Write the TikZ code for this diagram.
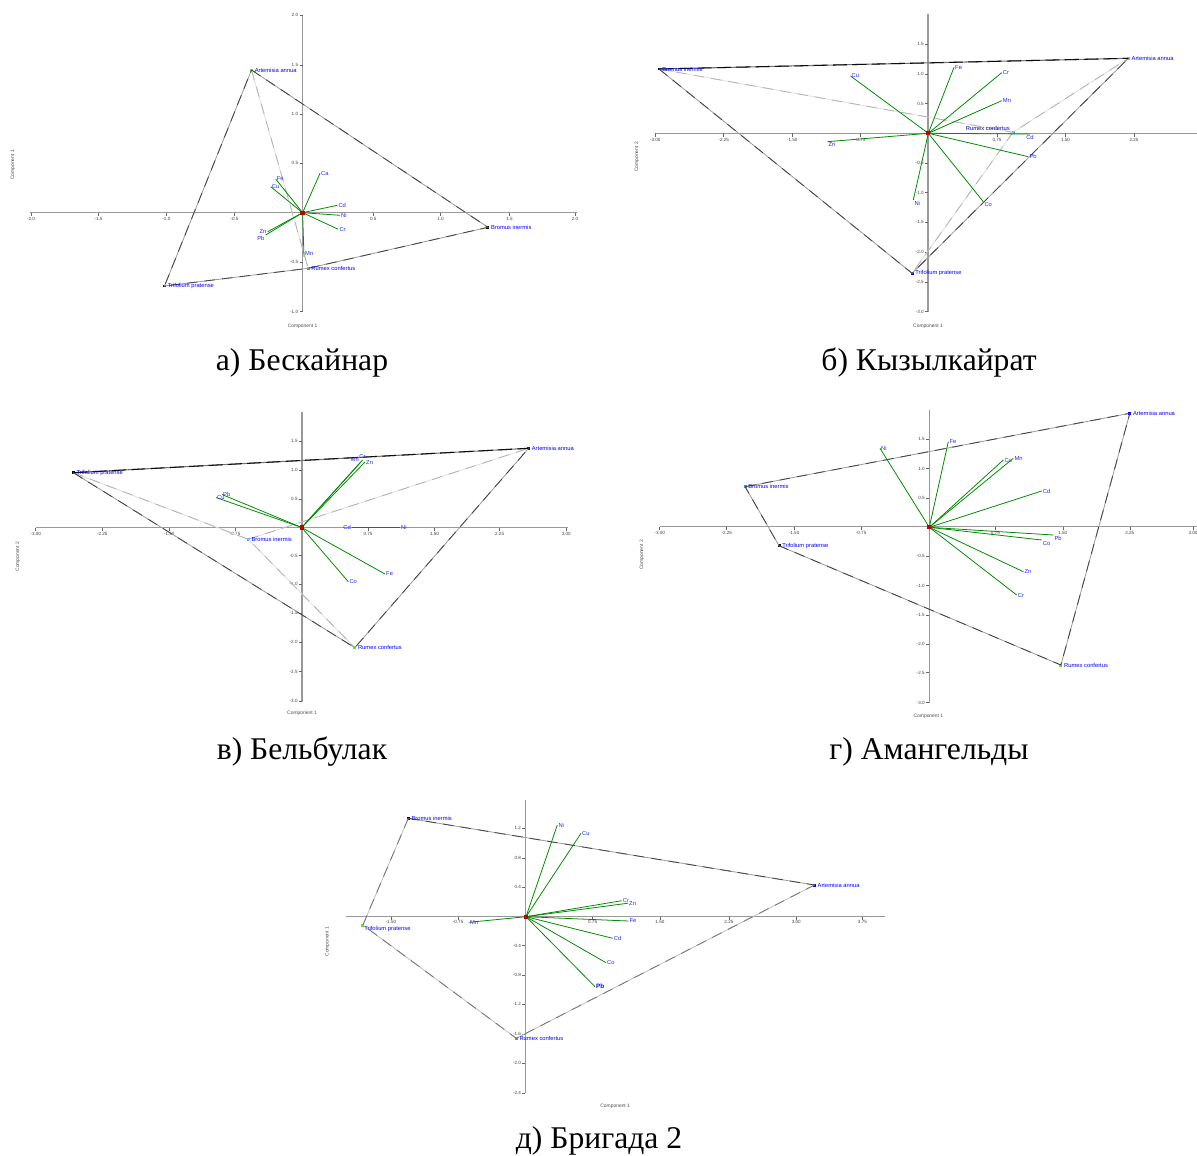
\documentclass[tikz,border=0pt]{standalone}
\usepackage{fontspec}
\setmainfont{Liberation Serif}
\newfontfamily\labfont{Liberation Sans}
\begin{document}
\begin{tikzpicture}[x=0.02cm,y=-0.02cm,
  ax/.style={draw=black!40, line width=0.7pt},
  tkm/.style={draw=black!60, line width=0.3pt},
  tk/.style={font=\labfont\fontsize{2.6}{3}\selectfont, text=black!75, inner sep=0.6pt},
  sp/.style={font=\labfont\fontsize{3.3}{4}\selectfont, text=blue, inner sep=0.6pt, anchor=west},
  el/.style={font=\labfont\fontsize{3.3}{4}\selectfont, text=blue!85!white, inner sep=0.5pt},
  alab/.style={font=\labfont\fontsize{2.8}{3}\selectfont, text=black!70, inner sep=0pt},
  vec/.style={draw=green!55!black, line width=0.45pt},
  dot/.style={rectangle, inner sep=0pt, minimum size=1.7pt},
  odot/.style={rectangle, inner sep=0pt, minimum size=2.4pt, fill=red!75!black},
  hulld/.style={draw=black!40, line width=0.45pt, postaction={draw=black!75, dash pattern=on 6pt off 4pt}},
  hulll/.style={draw=black!12, line width=0.45pt, postaction={draw=black!30, dash pattern=on 6pt off 4pt}},
  hullm/.style={draw=black!25, line width=0.45pt, postaction={draw=black!55, dash pattern=on 6pt off 4pt}},
  hullb/.style={draw=black!55, line width=0.6pt, postaction={draw=black!95, dash pattern=on 8pt off 3pt}},
  captxt/.style={font=\fontsize{18}{21}\selectfont, inner sep=0pt}
]
\fill[white] (0,0) rectangle (1197,1156);
\useasboundingbox (0,0) rectangle (1197,1156);

% ================= Panel a =================
\coordinate (a0) at (302.6,212.7);
\draw[ax] (302.6,15) -- (302.6,311.7);
\draw[ax] (29.5,212.7) -- (576.8,212.7);
\foreach \x/\t [count=\i] in {31/-2.0,98.5/-1.5,166.4/-1.0,234.5/-0.5,373.3/0.5,440.6/1.0,509.5/1.5,575/2.0}
  {\draw[tkm] (\x,212.7) -- (\x,216); \node[tk,anchor=north] (atx\i) at (\x,216) {\t};}
\foreach \y/\t [count=\i] in {15/2.0,65/1.5,114.3/1.0,163.3/0.5,262/-0.5,311.7/-1.0}
  {\draw[tkm] (299.5,\y) -- (302.6,\y); \node[tk,anchor=east] (aty\i) at (299.5,\y) {\t};}
\node[alab,rotate=90] (ayl) at (13,165) {Component 1};
\node[alab] (axl) at (302.6,326) {Component 1};
\node[dot,fill=green!75!yellow] (aArt) at (251.5,70) {};
\node[dot,fill=black] (aBro) at (487.9,227.3) {};
\node[dot,fill=blue] (aTri) at (164.5,286) {};
\node[dot,fill=cyan] (aRum) at (308.2,268.3) {};
\draw[hulll] (aArt.center) -- (aRum.center);
\draw[hulld] (aArt.center) -- (aBro.center) -- (aRum.center) -- (aTri.center) -- cycle;
\foreach \n/\x/\y/\a in {Ca/320/173.3/west,Cd/337.3/205.3/west,Ni/340/215.3/west,Cr/338.3/229.3/west,Mn/304/256.7/south west,Zn/267.7/231.7/east,Pb/265.7/235/north east,Fe/275.7/179/west,Cu/270.7/186.7/west}
  {\coordinate (a\n) at (\x,\y); \draw[vec] (a0) -- (a\n); \node[el,anchor=\a] (aL\n) at (a\n) {\n};}
\node[odot] (aO) at (a0) {};
\node[sp] (aArtL) at (aArt.east) {Artemisia annua};
\node[sp] (aBroL) at (aBro.east) {Bromus inermis};
\node[sp] (aTriL) at (aTri.east) {Trifolium pratense};
\node[sp] (aRumL) at (aRum.east) {Rumex confertus};

% ================= Panel b =================
\coordinate (b0) at (928.3,133.3);
\draw[ax] (928.1,14) -- (928.1,311.7);
\draw[ax] (655,133.3) -- (1197,133.3);
\foreach \x/\t [count=\i] in {655.2/-3.00,723.7/-2.25,792.2/-1.50,860/-0.75,997/0.75,1065.5/1.50,1134/2.25}
  {\draw[tkm] (\x,133.3) -- (\x,136.5); \node[tk,anchor=north] (btx\i) at (\x,136.5) {\t};}
\foreach \y/\t [count=\i] in {44.3/1.5,74/1.0,103.7/0.5,163/-0.5,192.7/-1.0,222.3/-1.5,252.3/-2.0,282.3/-2.5,311.7/-3.0}
  {\draw[tkm] (925,\y) -- (928.1,\y); \node[tk,anchor=east] (bty\i) at (925,\y) {\t};}
\node[alab,rotate=90] (byl) at (637,157) {Component 2};
\node[alab] (bxl) at (928,326) {Component 1};
\node[dot,fill=black] (bBro) at (659,69) {};
\node[dot,fill=green!75!yellow] (bArt) at (1128.4,58.3) {};
\node[dot,fill=blue] (bTri) at (912.1,273.3) {};
\node[dot,fill=cyan] (bRum) at (1013,132.3) {};
\draw[hulll] (bBro.center) -- (bRum.center) -- (bArt.center);
\draw[hulll] (bRum.center) -- (bTri.center);
\draw[hulld] (bBro.center) -- (bTri.center) -- (bArt.center);
\draw[hullb] (bBro.center) -- (bArt.center);
\foreach \n/\x/\y/\a in {Fe/954/67.3/west,Cr/1001.7/72.7/west,Mn/1001.7/100.7/west,Cd/1030/134/north,Pb/1028.3/156.7/west,Co/983.3/201.7/north west,Ni/913.3/200/north west,Zn/827.3/141.7/north west,Cu/850.5/76/west}
  {\coordinate (b\n) at (\x,\y); \draw[vec] (b0) -- (b\n); \node[el,anchor=\a] (bL\n) at (b\n) {\n};}
\node[odot] (bO) at (b0) {};
\node[sp] (bArtL) at (bArt.east) {Artemisia annua};
\node[sp] (bBroL) at (bBro.east) {Bromus inermis};
\node[sp] (bTriL) at (bTri.east) {Trifolium pratense};
\node[sp,anchor=south east,text=blue!70!black] (bRumL) at (bRum.west) {Rumex confertus};

% ================= Panel c =================
\coordinate (c0) at (301.7,527.5);
\draw[ax] (302.1,411.7) -- (302.1,701.7);
\draw[ax] (35.7,527.7) -- (568,527.7);
\foreach \x/\t [count=\i] in {35.7/-3.00,102.3/-2.25,169.3/-1.50,235.1/-0.75,368/0.75,434.5/1.50,499.6/2.25,566.2/3.00}
  {\draw[tkm] (\x,527.7) -- (\x,531); \node[tk,anchor=north] (ctx\i) at (\x,531) {\t};}
\foreach \y/\t [count=\i] in {441/1.5,470/1.0,499/0.5,555.7/-0.5,584.3/-1.0,613.3/-1.5,642.3/-2.0,671.7/-2.5,701/-3.0}
  {\draw[tkm] (299,\y) -- (302.1,\y); \node[tk,anchor=east] (cty\i) at (299,\y) {\t};}
\node[alab,rotate=90] (cyl) at (18,556.7) {Component 2};
\node[alab] (cxl) at (302,713.3) {Component 1};
\node[dot,fill=black] (cTri) at (73.4,472.7) {};
\node[dot,fill=blue] (cArt) at (528.6,448.3) {};
\node[dot,fill=cyan] (cBro) at (248.3,539.3) {};
\node[dot,fill=green!75!yellow] (cRum) at (354.8,647.7) {};
\draw[hulll] (cTri.center) -- (cBro.center) -- (cRum.center);
\draw[hulll] (cBro.center) -- (cArt.center);
\draw[hulld] (cTri.center) -- (cRum.center) -- (cArt.center);
\draw[hullb] (cTri.center) -- (cArt.center);
\foreach \n/\x/\y/\a in {Mn/360/463/south east,Cr/362.5/460/south,Zn/365/462/west,Pb/222/494.5/west,Cu/216/497.5/west,Fe/385/574/west,Co/348.3/581.7/west}
  {\coordinate (c\n) at (\x,\y); \draw[vec] (c0) -- (c\n); \node[el,anchor=\a] (cL\n) at (c\n) {\n};}
\coordinate (cCd) at (352,527.5);
\coordinate (cNi) at (400,527.5);
\draw[vec, line width=0.6pt] (cCd) -- (cNi);
\node[el,anchor=east] (cLCd) at (cCd) {Cd};
\node[el,anchor=west] (cLNi) at (cNi) {Ni};
\node[odot] (cO) at (c0) {};
\node[sp] (cArtL) at (cArt.east) {Artemisia annua};
\node[sp] (cBroL) at (cBro.east) {Bromus inermis};
\node[sp] (cTriL) at (cTri.east) {Trifolium pratense};
\node[sp] (cRumL) at (cRum.east) {Rumex confertus};

% ================= Panel d =================
\coordinate (d0) at (929.3,527.3);
\draw[ax] (929.2,410) -- (929.2,703.3);
\draw[ax] (659.7,526.7) -- (1197,526.7);
\foreach \x/\t [count=\i] in {659.7/-3.00,726.7/-2.25,794.1/-1.50,861.1/-0.75,995.4/0.75,1062.8/1.50,1129.8/2.25,1193/3.00}
  {\draw[tkm] (\x,526.7) -- (\x,530); \node[tk,anchor=north] (dtx\i) at (\x,530) {\t};}
\foreach \y/\t [count=\i] in {439.3/1.5,468.7/1.0,498.3/0.5,556/-0.5,585.7/-1.0,615/-1.5,644/-2.0,672.7/-2.5,702.7/-3.0}
  {\draw[tkm] (926,\y) -- (929.2,\y); \node[tk,anchor=east] (dty\i) at (926,\y) {\t};}
\node[alab,rotate=90] (dyl) at (642,555) {Component 2};
\node[alab] (dxl) at (928.4,716.7) {Component 1};
\node[dot,fill=blue] (dArt) at (1129.8,413.3) {};
\node[dot,fill=cyan] (dBro) at (745.1,486.7) {};
\node[dot,fill=black] (dTri) at (779,545.7) {};
\node[dot,fill=green!75!yellow] (dRum) at (1060.9,665) {};
\draw[hulld] (dBro.center) -- (dArt.center) -- (dRum.center) -- (dTri.center) -- cycle;
\foreach \n/\x/\y/\a in {Ni/880/448.3/west,Fe/948.3/441.7/west,Cu/1003.3/460/west,Mn/1013.3/458.3/west,Cd/1041.7/491/west,Pb/1053.3/535/north west,Co/1041.7/540/north west,Zn/1023.3/571.7/west,Cr/1016.7/595/west}
  {\coordinate (d\n) at (\x,\y); \draw[vec] (d0) -- (d\n); \node[el,anchor=\a] (dL\n) at (d\n) {\n};}
\node[odot] (dO) at (d0) {};
\node[sp] (dArtL) at (dArt.east) {Artemisia annua};
\node[sp] (dBroL) at (dBro.east) {Bromus inermis};
\node[sp] (dTriL) at (dTri.east) {Trifolium pratense};
\node[sp] (dRumL) at (dRum.east) {Rumex confertus};

% ================= Panel e =================
\coordinate (e0) at (526,916.7);
\draw[ax] (525.4,800) -- (525.4,1093.3);
\draw[ax] (346.2,916.7) -- (885.3,916.7);
\foreach \x/\t [count=\i] in {390.9/-1.50,458.1/-0.75,592.6/0.75,659.9/1.50,728.9/2.25,796.2/3.00,862.4/3.75}
  {\draw[tkm] (\x,916.7) -- (\x,919.5); \node[tk,anchor=north] (etx\i) at (\x,919) {\t};}
\foreach \y/\t [count=\i] in {828.3/1.2,858.3/0.8,887.3/0.4,945.7/-0.4,975/-0.8,1004.3/-1.2,1034/-1.6,1063.3/-2.0,1093.3/-2.4}
  {\draw[tkm] (522.3,\y) -- (525.4,\y); \node[tk,anchor=east] (ety\i) at (522.3,\y) {\t};}
\node[alab,rotate=90] (eyl) at (327.3,941.7) {Component 1};
\node[alab] (exl) at (615.2,1106.7) {Component 1};
\node[dot,fill=black] (eBro) at (408.3,818.3) {};
\node[dot,fill=blue] (eArt) at (814.4,885) {};
\node[dot,fill=green!75!yellow] (eTri) at (362.9,925) {};
\node[dot,fill=cyan] (eRum) at (516.3,1038.3) {};
\draw[hullm] (eBro.center) -- (eTri.center) -- (eRum.center) -- (eArt.center);
\draw[hulld] (eBro.center) -- (eArt.center);
\foreach \n/\x/\y/\a in {Ni/557.3/825/west,Cu/581/833.3/west,Cr/621.7/900.7/west,Zn/628/903.2/west,Fe/628.3/921/west,Cd/612.7/938.3/west,Co/606/962.7/west,Mn/469/922.3/west}
  {\coordinate (e\n) at (\x,\y); \draw[vec] (e0) -- (e\n); \node[el,anchor=\a] (eL\n) at (e\n) {\n};}
\coordinate (ePb) at (595,986.7);
\draw[vec] (e0) -- (ePb);
\node[el,anchor=west,text=blue,font=\labfont\bfseries\fontsize{3.6}{4}\selectfont] (eLPb) at (ePb) {Pb};
\node[odot] (eO) at (e0) {};
\node[sp] (eArtL) at (eArt.east) {Artemisia annua};
\node[sp] (eBroL) at (eBro.east) {Bromus inermis};
\node[sp,anchor=north west] (eTriL) at (eTri.center) {Trifolium pratense};
\node[sp] (eRumL) at (eRum.east) {Rumex confertus};

% ================= Captions =================
\node[captxt] (capa) at (302,363) {а) Бескайнар};
\node[captxt] (capb) at (929,363) {б) Кызылкайрат};
\node[captxt] (capc) at (302,752) {в) Бельбулак};
\node[captxt] (capd) at (929,752) {г) Амангельды};
\node[captxt] (cape) at (599,1141) {д) Бригада 2};
\end{tikzpicture}
\end{document}
